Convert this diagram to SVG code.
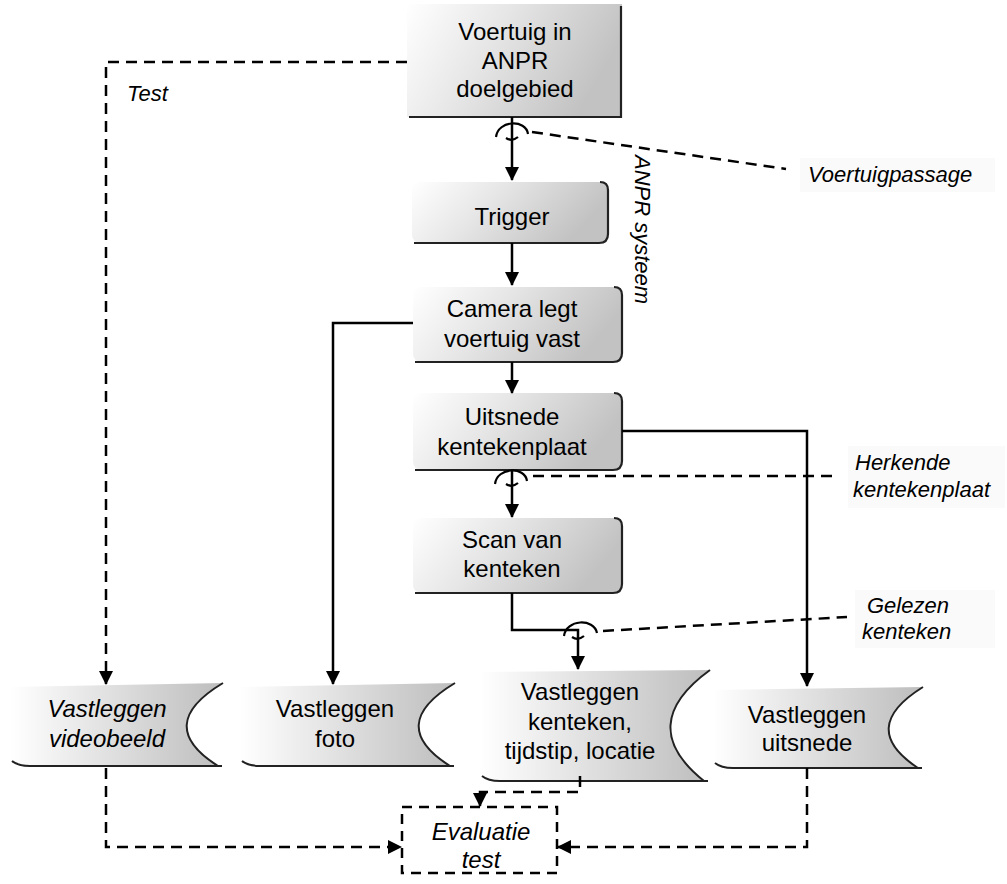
<svg xmlns="http://www.w3.org/2000/svg" width="1007" height="884" viewBox="0 0 1007 884">
<defs>
<linearGradient id="gp" x1="0" y1="0" x2="1" y2="0.3">
<stop offset="0" stop-color="#ffffff"/>
<stop offset="0.45" stop-color="#e6e6e6"/>
<stop offset="1" stop-color="#c2c2c2"/>
</linearGradient>
<linearGradient id="gs" x1="0" y1="0" x2="1" y2="0">
<stop offset="0" stop-color="#ffffff"/>
<stop offset="0.5" stop-color="#dedede"/>
<stop offset="1" stop-color="#bdbdbd"/>
</linearGradient>
<marker id="ah" viewBox="0 0 14 14" refX="13" refY="7" markerWidth="14" markerHeight="14" markerUnits="userSpaceOnUse" orient="auto">
<path d="M0,0 L14,7 L0,14 Z" fill="#000"/>
</marker>
<style>
.t{font-family:"Liberation Sans",Arial,sans-serif;font-size:24px;fill:#000;text-anchor:middle}
.i{font-family:"Liberation Sans",Arial,sans-serif;font-size:22px;fill:#000;font-style:italic}
.box{fill:url(#gp);stroke:none}
.edge{fill:none;stroke:#222;stroke-width:2.2}
.st{fill:url(#gs);stroke:none}
.sl{fill:none;stroke:#222;stroke-width:2}
.solid{fill:none;stroke:#000;stroke-width:2.5}
.dash{fill:none;stroke:#000;stroke-width:2.5;stroke-dasharray:11,7}
.loop{fill:none;stroke:#000;stroke-width:2.2}
.lbl{fill:#fafafa;stroke:none}
</style>
</defs>

<g id="n-voertuig">
<rect class="box" x="407" y="4" width="215" height="113"/>
<path class="edge" d="M409,117 H621 V6"/>
<text class="t" x="515" y="40">Voertuig in</text>
<text class="t" x="515" y="69">ANPR</text>
<text class="t" x="515" y="97">doelgebied</text>
</g>

<g id="n-trigger">
<rect class="box" x="412" y="182" width="196" height="61" rx="8"/>
<path class="edge" d="M414,243 H599 Q608,243 608,234 V190 Q608,182 600,182"/>
<text class="t" x="512" y="225">Trigger</text>
</g>

<g id="n-camera">
<rect class="box" x="413" y="287" width="209" height="75" rx="8"/>
<path class="edge" d="M415,362 H613 Q622,362 622,353 V295 Q622,287 614,287"/>
<text class="t" x="512" y="317">Camera legt</text>
<text class="t" x="512" y="347">voertuig vast</text>
</g>

<g id="n-uitsnede">
<rect class="box" x="413" y="393" width="209" height="77" rx="8"/>
<path class="edge" d="M415,470 H613 Q622,470 622,461 V401 Q622,393 614,393"/>
<text class="t" x="512" y="425">Uitsnede</text>
<text class="t" x="512" y="455">kentekenplaat</text>
</g>

<g id="n-scan">
<rect class="box" x="413" y="518" width="209" height="75" rx="8"/>
<path class="edge" d="M415,593 H613 Q622,593 622,584 V526 Q622,518 614,518"/>
<text class="t" x="512" y="548">Scan van</text>
<text class="t" x="512" y="577">kenteken</text>
</g>

<g id="n-videobeeld">
<path class="st" d="M10,687 L223,683 Q153,725 218,766 L20,766 Q10,764 10,758 Z"/>
<path class="sl" d="M223,683 Q153,725 218,766"/>
<path class="sl" d="M12,761 Q18,766 30,766 H222"/>
<text class="t" x="107" y="717" font-style="italic">Vastleggen</text>
<text class="t" x="107" y="747" font-style="italic">videobeeld</text>
</g>

<g id="n-foto">
<path class="st" d="M240,687 L455,683 Q385,725 450,766 L250,766 Q240,764 240,758 Z"/>
<path class="sl" d="M455,683 Q385,725 450,766"/>
<path class="sl" d="M242,761 Q248,766 260,766 H454"/>
<text class="t" x="335" y="717">Vastleggen</text>
<text class="t" x="335" y="747">foto</text>
</g>

<g id="n-kenteken">
<path class="st" d="M480,672 L710,670 Q634,725 704,781 L490,781 Q480,779 480,773 Z"/>
<path class="sl" d="M710,670 Q634,725 704,781"/>
<path class="sl" d="M482,776 Q488,781 500,781 H708"/>
<text class="t" x="580" y="700">Vastleggen</text>
<text class="t" x="580" y="730">kenteken,</text>
<text class="t" x="580" y="759">tijdstip, locatie</text>
</g>

<g id="n-uitsnede-opslag">
<path class="st" d="M713,690 L923,687 Q857,728 918,768 L723,768 Q713,766 713,760 Z"/>
<path class="sl" d="M923,687 Q857,728 918,768"/>
<path class="sl" d="M715,763 Q721,768 733,768 H922"/>
<text class="t" x="807" y="723">Vastleggen</text>
<text class="t" x="807" y="751">uitsnede</text>
</g>

<g id="n-evaluatie">
<rect x="402" y="807" width="155" height="66" fill="none" stroke="#000" stroke-width="2.5" stroke-dasharray="10,7"/>
<text class="t" x="481" y="840" font-style="italic">Evaluatie</text>
<text class="t" x="481" y="868" font-style="italic">test</text>
</g>

<g id="labels">
<rect class="lbl" x="800" y="158" width="195" height="34"/>
<text class="i" x="808" y="182" font-size="21.5">Voertuigpassage</text>
<rect class="lbl" x="848" y="446" width="157" height="62"/>
<text class="i" x="855" y="470">Herkende</text>
<text class="i" x="853" y="497">kentekenplaat</text>
<rect class="lbl" x="855" y="590" width="140" height="58"/>
<text class="i" x="867" y="613">Gelezen</text>
<text class="i" x="862" y="639">kenteken</text>
<text class="i" x="127" y="101" font-size="23">Test</text>
<text class="i" transform="translate(635,155) rotate(90)" font-size="23">ANPR systeem</text>
</g>

<g id="connectors">
<path class="solid" d="M512,117 V180" marker-end="url(#ah)"/>
<path class="solid" d="M512,243 V285" marker-end="url(#ah)"/>
<path class="solid" d="M512,362 V393" marker-end="url(#ah)"/>
<path class="solid" d="M512,470 V517" marker-end="url(#ah)"/>
<path class="solid" d="M512,593 V630 H578 V669" marker-end="url(#ah)"/>
<path class="solid" d="M413,323 H333 V684" marker-end="url(#ah)"/>
<path class="solid" d="M622,431 H807 V686" marker-end="url(#ah)"/>
<path class="dash" d="M407,62 H106 V684" marker-end="url(#ah)"/>
<path class="dash" d="M106,768 V847 H401" marker-end="url(#ah)"/>
<path class="dash" d="M807,768 V847 H558" marker-end="url(#ah)"/>
<path class="dash" d="M580,776 V792 H480 V806" marker-end="url(#ah)"/>
<path class="dash" d="M532,132 L786,169"/>
<path class="dash" d="M533,476 H833"/>
<path class="dash" d="M603,631 L847,617"/>
<path class="loop" d="M496,137 C498,120 526,119 528,134"/>
<path class="loop" d="M506,138 Q512,142 518,137"/>
<path class="loop" d="M495,484 C497,467 525,466 527,481"/>
<path class="loop" d="M506,484 Q512,488 518,483"/>
<path class="loop" d="M564,636 C566,619 594,618 597,633"/>
<path class="loop" d="M572,637 Q578,641 584,636"/>
</g>
</svg>
